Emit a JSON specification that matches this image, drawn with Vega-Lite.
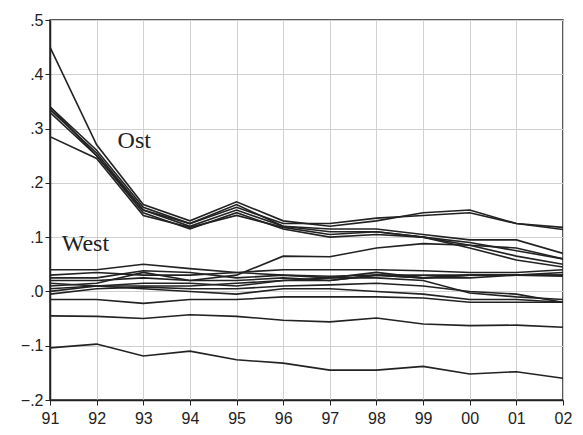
{
  "$schema": "https://vega.github.io/schema/vega-lite/v6.json",
  "width": 513,
  "height": 380,
  "autosize": {"type": "none"},
  "padding": {"left": 50, "top": 20, "right": 20, "bottom": 35},
  "background": "white",
  "config": {
    "view": {"stroke": "#222", "strokeWidth": 1.5},
    "axis": {
      "domainColor": "#222", "domainWidth": 1.5, "tickColor": "#222", "tickSize": 5,
      "gridColor": "#d0d0d0", "gridWidth": 1, "labelFont": "Liberation Sans",
      "labelFontSize": 16, "labelColor": "#222", "title": null
    }
  },
  "datasets": {
    "series": [
      {"s": "O1", "year": 1991, "v": 0.45}, {"s": "O1", "year": 1992, "v": 0.27}, {"s": "O1", "year": 1993, "v": 0.16}, {"s": "O1", "year": 1994, "v": 0.13}, {"s": "O1", "year": 1995, "v": 0.165}, {"s": "O1", "year": 1996, "v": 0.13}, {"s": "O1", "year": 1997, "v": 0.12}, {"s": "O1", "year": 1998, "v": 0.13}, {"s": "O1", "year": 1999, "v": 0.145}, {"s": "O1", "year": 2000, "v": 0.15}, {"s": "O1", "year": 2001, "v": 0.125}, {"s": "O1", "year": 2002, "v": 0.118},
      {"s": "O2", "year": 1991, "v": 0.34}, {"s": "O2", "year": 1992, "v": 0.26}, {"s": "O2", "year": 1993, "v": 0.155}, {"s": "O2", "year": 1994, "v": 0.125}, {"s": "O2", "year": 1995, "v": 0.155}, {"s": "O2", "year": 1996, "v": 0.125}, {"s": "O2", "year": 1997, "v": 0.125}, {"s": "O2", "year": 1998, "v": 0.135}, {"s": "O2", "year": 1999, "v": 0.14}, {"s": "O2", "year": 2000, "v": 0.145}, {"s": "O2", "year": 2001, "v": 0.125}, {"s": "O2", "year": 2002, "v": 0.114},
      {"s": "O3", "year": 1991, "v": 0.335}, {"s": "O3", "year": 1992, "v": 0.255}, {"s": "O3", "year": 1993, "v": 0.15}, {"s": "O3", "year": 1994, "v": 0.12}, {"s": "O3", "year": 1995, "v": 0.15}, {"s": "O3", "year": 1996, "v": 0.12}, {"s": "O3", "year": 1997, "v": 0.11}, {"s": "O3", "year": 1998, "v": 0.11}, {"s": "O3", "year": 1999, "v": 0.1}, {"s": "O3", "year": 2000, "v": 0.085}, {"s": "O3", "year": 2001, "v": 0.065}, {"s": "O3", "year": 2002, "v": 0.05},
      {"s": "O4", "year": 1991, "v": 0.34}, {"s": "O4", "year": 1992, "v": 0.25}, {"s": "O4", "year": 1993, "v": 0.145}, {"s": "O4", "year": 1994, "v": 0.115}, {"s": "O4", "year": 1995, "v": 0.145}, {"s": "O4", "year": 1996, "v": 0.115}, {"s": "O4", "year": 1997, "v": 0.1}, {"s": "O4", "year": 1998, "v": 0.105}, {"s": "O4", "year": 1999, "v": 0.1}, {"s": "O4", "year": 2000, "v": 0.08}, {"s": "O4", "year": 2001, "v": 0.058}, {"s": "O4", "year": 2002, "v": 0.045},
      {"s": "O5", "year": 1991, "v": 0.285}, {"s": "O5", "year": 1992, "v": 0.245}, {"s": "O5", "year": 1993, "v": 0.14}, {"s": "O5", "year": 1994, "v": 0.118}, {"s": "O5", "year": 1995, "v": 0.14}, {"s": "O5", "year": 1996, "v": 0.118}, {"s": "O5", "year": 1997, "v": 0.105}, {"s": "O5", "year": 1998, "v": 0.11}, {"s": "O5", "year": 1999, "v": 0.1}, {"s": "O5", "year": 2000, "v": 0.09}, {"s": "O5", "year": 2001, "v": 0.075}, {"s": "O5", "year": 2002, "v": 0.06},
      {"s": "O6", "year": 1991, "v": 0.33}, {"s": "O6", "year": 1992, "v": 0.25}, {"s": "O6", "year": 1993, "v": 0.15}, {"s": "O6", "year": 1994, "v": 0.125}, {"s": "O6", "year": 1995, "v": 0.16}, {"s": "O6", "year": 1996, "v": 0.12}, {"s": "O6", "year": 1997, "v": 0.115}, {"s": "O6", "year": 1998, "v": 0.115}, {"s": "O6", "year": 1999, "v": 0.105}, {"s": "O6", "year": 2000, "v": 0.095}, {"s": "O6", "year": 2001, "v": 0.095}, {"s": "O6", "year": 2002, "v": 0.07},
      {"s": "W1", "year": 1991, "v": 0.04}, {"s": "W1", "year": 1992, "v": 0.04}, {"s": "W1", "year": 1993, "v": 0.05}, {"s": "W1", "year": 1994, "v": 0.042}, {"s": "W1", "year": 1995, "v": 0.035}, {"s": "W1", "year": 1996, "v": 0.03}, {"s": "W1", "year": 1997, "v": 0.028}, {"s": "W1", "year": 1998, "v": 0.03}, {"s": "W1", "year": 1999, "v": 0.03}, {"s": "W1", "year": 2000, "v": 0.03}, {"s": "W1", "year": 2001, "v": 0.03}, {"s": "W1", "year": 2002, "v": 0.03},
      {"s": "W2", "year": 1991, "v": 0.02}, {"s": "W2", "year": 1992, "v": 0.02}, {"s": "W2", "year": 1993, "v": 0.025}, {"s": "W2", "year": 1994, "v": 0.02}, {"s": "W2", "year": 1995, "v": 0.03}, {"s": "W2", "year": 1996, "v": 0.065}, {"s": "W2", "year": 1997, "v": 0.064}, {"s": "W2", "year": 1998, "v": 0.08}, {"s": "W2", "year": 1999, "v": 0.088}, {"s": "W2", "year": 2000, "v": 0.085}, {"s": "W2", "year": 2001, "v": 0.08}, {"s": "W2", "year": 2002, "v": 0.06},
      {"s": "W3", "year": 1991, "v": 0.025}, {"s": "W3", "year": 1992, "v": 0.025}, {"s": "W3", "year": 1993, "v": 0.038}, {"s": "W3", "year": 1994, "v": 0.035}, {"s": "W3", "year": 1995, "v": 0.025}, {"s": "W3", "year": 1996, "v": 0.03}, {"s": "W3", "year": 1997, "v": 0.025}, {"s": "W3", "year": 1998, "v": 0.035}, {"s": "W3", "year": 1999, "v": 0.025}, {"s": "W3", "year": 2000, "v": 0.03}, {"s": "W3", "year": 2001, "v": 0.03}, {"s": "W3", "year": 2002, "v": 0.035},
      {"s": "W4", "year": 1991, "v": 0.01}, {"s": "W4", "year": 1992, "v": 0.015}, {"s": "W4", "year": 1993, "v": 0.035}, {"s": "W4", "year": 1994, "v": 0.02}, {"s": "W4", "year": 1995, "v": 0.02}, {"s": "W4", "year": 1996, "v": 0.025}, {"s": "W4", "year": 1997, "v": 0.02}, {"s": "W4", "year": 1998, "v": 0.03}, {"s": "W4", "year": 1999, "v": 0.025}, {"s": "W4", "year": 2000, "v": 0.025}, {"s": "W4", "year": 2001, "v": 0.03}, {"s": "W4", "year": 2002, "v": 0.03},
      {"s": "W5", "year": 1991, "v": 0.005}, {"s": "W5", "year": 1992, "v": 0.01}, {"s": "W5", "year": 1993, "v": 0.015}, {"s": "W5", "year": 1994, "v": 0.015}, {"s": "W5", "year": 1995, "v": 0.01}, {"s": "W5", "year": 1996, "v": 0.02}, {"s": "W5", "year": 1997, "v": 0.02}, {"s": "W5", "year": 1998, "v": 0.03}, {"s": "W5", "year": 1999, "v": 0.025}, {"s": "W5", "year": 2000, "v": 0.03}, {"s": "W5", "year": 2001, "v": 0.03}, {"s": "W5", "year": 2002, "v": 0.028},
      {"s": "W6", "year": 1991, "v": 0.0}, {"s": "W6", "year": 1992, "v": 0.01}, {"s": "W6", "year": 1993, "v": 0.01}, {"s": "W6", "year": 1994, "v": 0.01}, {"s": "W6", "year": 1995, "v": 0.015}, {"s": "W6", "year": 1996, "v": 0.02}, {"s": "W6", "year": 1997, "v": 0.025}, {"s": "W6", "year": 1998, "v": 0.025}, {"s": "W6", "year": 1999, "v": 0.02}, {"s": "W6", "year": 2000, "v": -0.003}, {"s": "W6", "year": 2001, "v": -0.01}, {"s": "W6", "year": 2002, "v": -0.015},
      {"s": "W7", "year": 1991, "v": -0.005}, {"s": "W7", "year": 1992, "v": 0.005}, {"s": "W7", "year": 1993, "v": 0.008}, {"s": "W7", "year": 1994, "v": 0.005}, {"s": "W7", "year": 1995, "v": 0.005}, {"s": "W7", "year": 1996, "v": 0.01}, {"s": "W7", "year": 1997, "v": 0.012}, {"s": "W7", "year": 1998, "v": 0.015}, {"s": "W7", "year": 1999, "v": 0.01}, {"s": "W7", "year": 2000, "v": 0.0}, {"s": "W7", "year": 2001, "v": -0.005}, {"s": "W7", "year": 2002, "v": -0.02},
      {"s": "W8", "year": 1991, "v": 0.015}, {"s": "W8", "year": 1992, "v": 0.01}, {"s": "W8", "year": 1993, "v": 0.005}, {"s": "W8", "year": 1994, "v": 0.0}, {"s": "W8", "year": 1995, "v": -0.005}, {"s": "W8", "year": 1996, "v": 0.005}, {"s": "W8", "year": 1997, "v": 0.005}, {"s": "W8", "year": 1998, "v": 0.0}, {"s": "W8", "year": 1999, "v": -0.005}, {"s": "W8", "year": 2000, "v": -0.015}, {"s": "W8", "year": 2001, "v": -0.015}, {"s": "W8", "year": 2002, "v": -0.02},
      {"s": "W9", "year": 1991, "v": -0.015}, {"s": "W9", "year": 1992, "v": -0.015}, {"s": "W9", "year": 1993, "v": -0.022}, {"s": "W9", "year": 1994, "v": -0.015}, {"s": "W9", "year": 1995, "v": -0.015}, {"s": "W9", "year": 1996, "v": -0.01}, {"s": "W9", "year": 1997, "v": -0.01}, {"s": "W9", "year": 1998, "v": -0.01}, {"s": "W9", "year": 1999, "v": -0.012}, {"s": "W9", "year": 2000, "v": -0.02}, {"s": "W9", "year": 2001, "v": -0.02}, {"s": "W9", "year": 2002, "v": -0.02},
      {"s": "W10", "year": 1991, "v": -0.045}, {"s": "W10", "year": 1992, "v": -0.046}, {"s": "W10", "year": 1993, "v": -0.05}, {"s": "W10", "year": 1994, "v": -0.043}, {"s": "W10", "year": 1995, "v": -0.046}, {"s": "W10", "year": 1996, "v": -0.053}, {"s": "W10", "year": 1997, "v": -0.056}, {"s": "W10", "year": 1998, "v": -0.049}, {"s": "W10", "year": 1999, "v": -0.06}, {"s": "W10", "year": 2000, "v": -0.063}, {"s": "W10", "year": 2001, "v": -0.062}, {"s": "W10", "year": 2002, "v": -0.066},
      {"s": "W11", "year": 1991, "v": -0.104}, {"s": "W11", "year": 1992, "v": -0.097}, {"s": "W11", "year": 1993, "v": -0.119}, {"s": "W11", "year": 1994, "v": -0.11}, {"s": "W11", "year": 1995, "v": -0.126}, {"s": "W11", "year": 1996, "v": -0.132}, {"s": "W11", "year": 1997, "v": -0.145}, {"s": "W11", "year": 1998, "v": -0.145}, {"s": "W11", "year": 1999, "v": -0.138}, {"s": "W11", "year": 2000, "v": -0.152}, {"s": "W11", "year": 2001, "v": -0.148}, {"s": "W11", "year": 2002, "v": -0.16},
      {"s": "W12", "year": 1991, "v": 0.03}, {"s": "W12", "year": 1992, "v": 0.035}, {"s": "W12", "year": 1993, "v": 0.03}, {"s": "W12", "year": 1994, "v": 0.03}, {"s": "W12", "year": 1995, "v": 0.035}, {"s": "W12", "year": 1996, "v": 0.04}, {"s": "W12", "year": 1997, "v": 0.04}, {"s": "W12", "year": 1998, "v": 0.04}, {"s": "W12", "year": 1999, "v": 0.038}, {"s": "W12", "year": 2000, "v": 0.035}, {"s": "W12", "year": 2001, "v": 0.035}, {"s": "W12", "year": 2002, "v": 0.04}
    ],
    "labels": [
      {"label": "Ost", "year": 1992.45, "v": 0.277},
      {"label": "West", "year": 1991.25, "v": 0.088}
    ]
  },
  "layer": [
    {
      "data": {"name": "series"},
      "mark": {"type": "line", "color": "#222", "strokeWidth": 1.6, "clip": true},
      "encoding": {
        "x": {
          "field": "year", "type": "quantitative",
          "scale": {"domain": [1991, 2002], "nice": false, "zero": false},
          "axis": {"values": [1991,1992,1993,1994,1995,1996,1997,1998,1999,2000,2001,2002], "labelExpr": "slice(toString(datum.value), 2)", "grid": true, "labelPadding": 5, "labelFlush": false}
        },
        "y": {
          "field": "v", "type": "quantitative",
          "scale": {"domain": [-0.2, 0.5], "nice": false, "zero": false},
          "axis": {"values": [-0.2,-0.1,0,0.1,0.2,0.3,0.4,0.5], "labelExpr": "replace(format(datum.value, '.1f'), '0.', '.')", "grid": true, "labelPadding": 2, "labelFlush": false}
        },
        "detail": {"field": "s", "type": "nominal"}
      }
    },
    {
      "data": {"name": "labels"},
      "mark": {"type": "text", "font": "Liberation Serif", "fontSize": 24, "color": "#222", "align": "left", "baseline": "middle"},
      "encoding": {
        "x": {"field": "year", "type": "quantitative"},
        "y": {"field": "v", "type": "quantitative"},
        "text": {"field": "label", "type": "nominal"}
      }
    }
  ]
}
